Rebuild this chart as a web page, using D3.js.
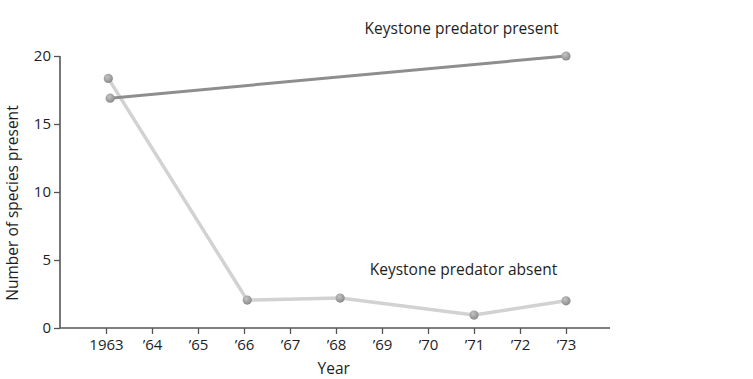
<!DOCTYPE html>
<html>
<head>
<meta charset="utf-8">
<script src="https://cdn.jsdelivr.net/npm/d3@7"></script>
<style>
  html, body { margin: 0; padding: 0; background: #fff; }
  svg { display: block; }
  text { font-family: "Open Sans", "Noto Sans", sans-serif; fill: #1e1e1e; }
</style>
</head>
<body>
<svg id="chart" width="753" height="379"></svg>
<script>
// ---- Data ----
const years = [1963, 1964, 1965, 1966, 1967, 1968, 1969, 1970, 1971, 1972, 1973];
const yearLabels = ["1963", "\u201964", "\u201965", "\u201966", "\u201967", "\u201968", "\u201969", "\u201970", "\u201971", "\u201972", "\u201973"];
const yTicks = [0, 5, 10, 15, 20];

const presentYears = [1963.09, 1973];
const presentValues = [16.9, 20];

const absentYears = [1963.05, 1966.07, 1968.09, 1971, 1973];
const absentValues = [18.35, 2.05, 2.2, 0.95, 2.0];

const seriesNames = ["Keystone predator present", "Keystone predator absent"];

// ---- Layout ----
const svg = d3.select("#chart");
const x = d3.scaleLinear().domain([1962, 1974]).range([60, 612]);
const y = d3.scaleLinear().domain([0, 20]).range([328, 56]);

// gradient for points
const defs = svg.append("defs");
const grad = defs.append("radialGradient").attr("id", "ball")
  .attr("cx", "40%").attr("cy", "35%").attr("r", "65%");
grad.append("stop").attr("offset", "0%").attr("stop-color", "#c4c4c4");
grad.append("stop").attr("offset", "100%").attr("stop-color", "#8a8a8a");

// axes
const axisColor = "#555";
svg.append("line").attr("x1", x(1962)).attr("x2", x(1974) - 2)
  .attr("y1", y(0)).attr("y2", y(0))
  .attr("stroke", axisColor).attr("stroke-width", 1.6);
svg.append("line").attr("x1", x(1962)).attr("x2", x(1962))
  .attr("y1", y(0)).attr("y2", y(20))
  .attr("stroke", axisColor).attr("stroke-width", 1.6);

const xAxis = d3.axisBottom(x).tickValues(years)
  .tickFormat((d, i) => yearLabels[i]).tickSize(6).tickPadding(5);
const gx = svg.append("g").attr("transform", `translate(0,${y(0)})`).call(xAxis);
gx.select(".domain").remove();
gx.selectAll(".tick line").attr("stroke", axisColor).attr("stroke-width", 1.3);
gx.selectAll(".tick text").attr("font-size", 15).attr("fill", "#1e1e1e")
  .attr("font-family", '"Open Sans", sans-serif');

const yAxis = d3.axisLeft(y).tickValues(yTicks).tickSize(6).tickPadding(3);
const gy = svg.append("g").attr("transform", `translate(${x(1962)},0)`).call(yAxis);
gy.select(".domain").remove();
gy.selectAll(".tick line").attr("stroke", axisColor).attr("stroke-width", 1.3);
gy.selectAll(".tick text").attr("font-size", 15).attr("fill", "#1e1e1e")
  .attr("font-family", '"Open Sans", sans-serif');

// axis titles
svg.append("text").attr("x", x(1967.95)).attr("y", 374)
  .attr("text-anchor", "middle").attr("font-size", 15.5).text("Year");
svg.append("text").attr("transform", `translate(17.5,${203}) rotate(-90)`)
  .attr("text-anchor", "middle").attr("font-size", 15.5).text("Number of species present");

// lines
const line = d3.line().x(d => x(d[0])).y(d => y(d[1]));
const absent = absentYears.map((d, i) => [d, absentValues[i]]);
const present = presentYears.map((d, i) => [d, presentValues[i]]);

svg.append("path").datum(absent).attr("d", line)
  .attr("fill", "none").attr("stroke", "#d2d2d2").attr("stroke-width", 3.5);
svg.append("path").datum(present).attr("d", line)
  .attr("fill", "none").attr("stroke", "#8e8e8e").attr("stroke-width", 3);

svg.selectAll("circle.abs").data(absent).enter().append("circle")
  .attr("class", "abs").attr("cx", d => x(d[0])).attr("cy", d => y(d[1]))
  .attr("r", 4.6).attr("fill", "url(#ball)");
svg.selectAll("circle.pre").data(present).enter().append("circle")
  .attr("class", "pre").attr("cx", d => x(d[0])).attr("cy", d => y(d[1]))
  .attr("r", 4.6).attr("fill", "url(#ball)");

// annotations
svg.append("text").attr("x", 461.5).attr("y", 34).attr("text-anchor", "middle")
  .attr("font-size", 15.5).text(seriesNames[0]);
svg.append("text").attr("x", 463.5).attr("y", 275).attr("text-anchor", "middle")
  .attr("font-size", 15.5).text(seriesNames[1]);
</script>
</body>
</html>
